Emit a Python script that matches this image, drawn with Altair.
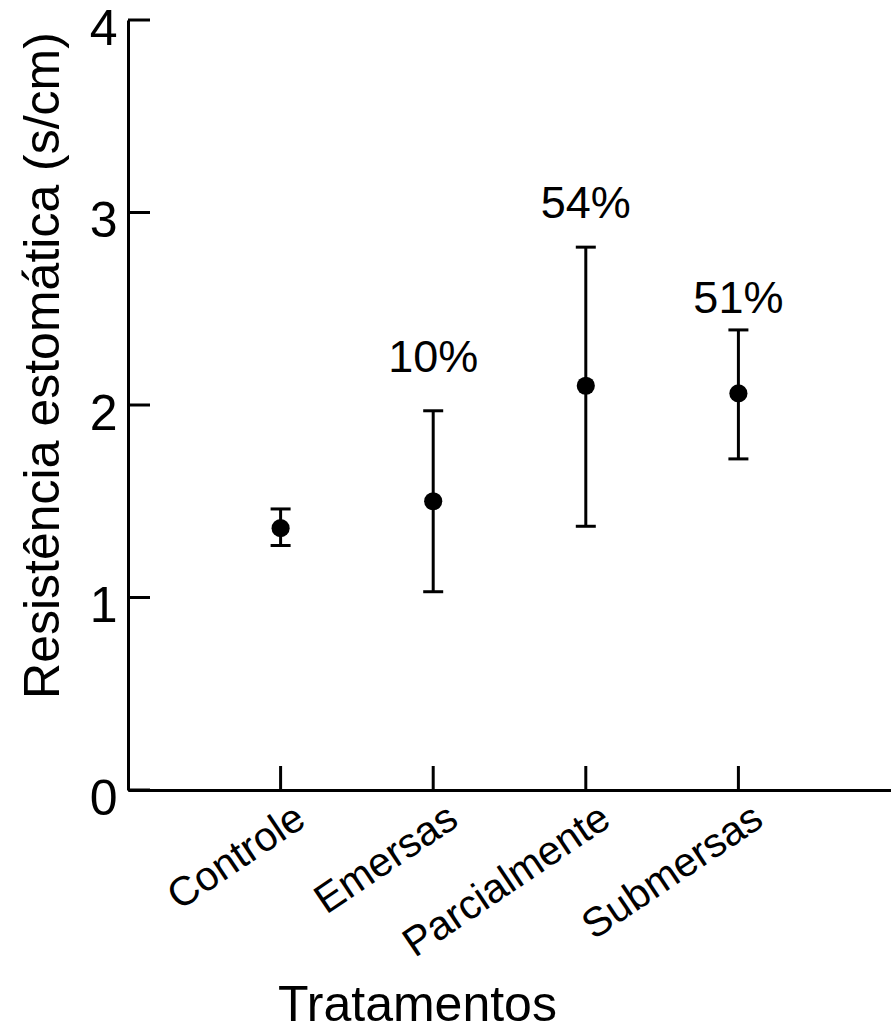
import altair as alt
import pandas as pd

categories = ["Controle", "Emersas", "Parcialmente", "Submersas"]
means = [1.36, 1.50, 2.10, 2.06]
lower = [1.27, 1.03, 1.37, 1.72]
upper = [1.46, 1.97, 2.82, 2.39]

pct_categories = ["Emersas", "Parcialmente", "Submersas"]
pct_labels = ["10%", "54%", "51%"]
pct_y = [2.17, 2.97, 2.48]

y_ticks = [0, 1, 2, 3, 4]

FONT = "Liberation Sans"
W, H = 763, 770

df = pd.DataFrame({"Tratamento": categories, "mean": means, "lo": lower, "hi": upper})
dpct = pd.DataFrame({"Tratamento": pct_categories, "label": pct_labels, "y": pct_y})
dticks = pd.DataFrame({"v": y_ticks})

xscale = alt.Scale(type="point", padding=1, domain=categories)
yscale = alt.Scale(domain=[0, 4], nice=False, zero=True)

x_enc = alt.X(
    "Tratamento:N",
    scale=xscale,
    sort=categories,
    axis=alt.Axis(
        title="Tratamentos",
        labelAngle=326,
        labelAlign="right",
        labelBaseline="middle",
        labelFontSize=41,
        labelFont=FONT,
        labelColor="black",
        labelPadding=24,
        labelOffset=20,
        labelLimit=0,
        tickSize=0,
        domainColor="black",
        domainWidth=3,
        titleFontSize=50,
        titleFont=FONT,
        titleFontWeight="normal",
        titleColor="black",
        titleX=289,
        titleY=230,
        titleAlign="center",
        titleBaseline="alphabetic",
        grid=False,
    ),
)

y_axis = alt.Axis(
    title="Resistência estomática (s/cm)",
    values=y_ticks,
    format="d",
    labelFontSize=50,
    labelFont=FONT,
    labelColor="black",
    labelPadding=11,
    labelBaseline="middle",
    labelOffset=9,
    labelFlush=False,
    tickSize=0,
    domainColor="black",
    domainWidth=3,
    titleFontSize=50,
    titleFont=FONT,
    titleFontWeight="normal",
    titleColor="black",
    titleAngle=270,
    titleAlign="center",
    titleBaseline="alphabetic",
    titleX=-70,
    titleY=345,
    grid=False,
)

base = alt.Chart(df)

bars = base.mark_rule(color="black", strokeWidth=3).encode(
    x=x_enc,
    y=alt.Y("lo:Q", scale=yscale, axis=y_axis),
    y2="hi:Q",
)

caps_lo = base.mark_tick(color="black", size=20, thickness=3, orient="horizontal", opacity=1).encode(
    x=alt.X("Tratamento:N", scale=xscale, sort=categories),
    y=alt.Y("lo:Q", scale=yscale),
)
caps_hi = base.mark_tick(color="black", size=20, thickness=3, orient="horizontal", opacity=1).encode(
    x=alt.X("Tratamento:N", scale=xscale, sort=categories),
    y=alt.Y("hi:Q", scale=yscale),
)

points = base.mark_circle(color="black", size=330, opacity=1).encode(
    x=alt.X("Tratamento:N", scale=xscale, sort=categories),
    y=alt.Y("mean:Q", scale=yscale),
)

pct = alt.Chart(dpct).mark_text(
    font=FONT, fontSize=45, color="black", baseline="alphabetic", align="center"
).encode(
    x=alt.X("Tratamento:N", scale=xscale, sort=categories),
    y=alt.Y("y:Q", scale=yscale),
    text="label:N",
)

ytick_marks = alt.Chart(dticks).mark_rule(color="black", strokeWidth=3).encode(
    y=alt.Y("v:Q", scale=yscale),
    x=alt.value(0),
    x2=alt.value(22),
)

xtick_marks = base.mark_rule(color="black", strokeWidth=3).encode(
    x=alt.X("Tratamento:N", scale=xscale, sort=categories),
    y=alt.value(H),
    y2=alt.value(H - 24),
)

chart = (
    alt.layer(bars, caps_lo, caps_hi, points, pct, ytick_marks, xtick_marks)
    .properties(
        width=W,
        height=H,
        autosize=alt.AutoSizeParams(type="none"),
        padding={"left": 128, "top": 20, "right": 0, "bottom": 240},
        background="white",
    )
    .configure_view(stroke=None)
)

chart.save("out.html", embed_options={"renderer": "svg", "actions": False})
